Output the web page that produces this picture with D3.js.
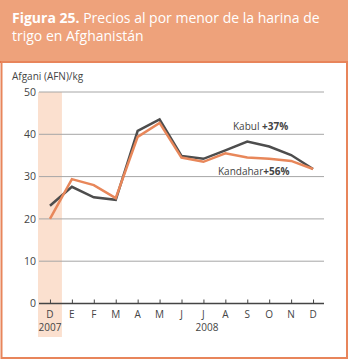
<!DOCTYPE html>
<html lang="es">
<head>
    <meta charset="UTF-8">
    <script src="https://cdn.jsdelivr.net/npm/d3@7"></script>
    <title>Figura 25</title>
    <style>
        * { margin: 0; padding: 0; box-sizing: border-box; }
        body { background: white; }
        svg { display: block; font-family: "Open Sans", sans-serif; }
    </style>
</head>
<body>
    <svg width="350" height="361"></svg>
    <script>
        let months = ['D', 'E', 'F', 'M', 'A', 'M', 'J', 'J', 'A', 'S', 'O', 'N', 'D']
        let kabul = [23.1, 27.6, 25.1, 24.5, 40.8, 43.5, 34.9, 34.2, 36.2, 38.3, 37.1, 35.1, 31.8]
        let kandahar = [20.0, 29.4, 28.0, 24.9, 39.4, 42.7, 34.5, 33.5, 35.5, 34.5, 34.2, 33.7, 31.8]
        let yTicks = [0, 10, 20, 30, 40, 50]

        let svg = d3.select('svg')

        // header band
        svg.append('rect').attr('x', 0).attr('y', 0).attr('width', 348).attr('height', 62).attr('fill', '#eea27b')
        svg.append('rect').attr('x', 0).attr('y', 61).attr('width', 348).attr('height', 2).attr('fill', '#e0693a')
        // frame
        svg.append('rect').attr('x', 1.5).attr('y', 62).attr('width', 345.5).attr('height', 296)
            .attr('fill', 'none').attr('stroke', '#e8855b').attr('stroke-width', 2)

        let title = svg.append('text').attr('x', 12).attr('y', 23).attr('fill', 'white').attr('font-size', 14)
        title.append('tspan').attr('font-weight', 'bold').text('Figura 25.')
        title.append('tspan').text(' Precios al por menor de la harina de')
        svg.append('text').attr('x', 12).attr('y', 41).attr('fill', 'white').attr('font-size', 14)
            .text('trigo en Afghanistán')

        let xScale = d3.scalePoint()
            .domain(d3.range(months.length))
            .range([39, 324])
            .padding(0.5)

        let yScale = d3.scaleLinear()
            .domain([0, 50])
            .range([303.5, 92])

        // 2007 shading
        let step = xScale.step()
        svg.append('rect')
            .attr('x', xScale(0) - step / 2 - 1)
            .attr('y', yScale(50))
            .attr('width', step + 2)
            .attr('height', 337 - yScale(50))
            .attr('fill', '#fbe0cf')

        // grid
        svg.append('g').selectAll('line')
            .data(yTicks.filter(d => d > 0))
            .join('line')
            .attr('x1', 39).attr('x2', 324)
            .attr('y1', d => yScale(d)).attr('y2', d => yScale(d))
            .attr('stroke', '#a6a6a6').attr('stroke-width', 1)

        let yAxis = d3.axisLeft(yScale).tickValues(yTicks).tickSize(0).tickPadding(6)
        let yg = svg.append('g').attr('transform', 'translate(36, 0)').call(yAxis)
        yg.select('.domain').remove()
        yg.selectAll('text').attr('font-size', 10.5).attr('fill', '#444').attr('font-family', '"Open Sans", sans-serif')
            .attr('dx', 6)

        let xAxis = d3.axisTop(xScale).tickSize(4).tickFormat('')
        let xg = svg.append('g').attr('transform', `translate(0, ${yScale(0)})`).call(xAxis)
        xg.select('.domain').attr('d', 'M39,0H324').attr('stroke', '#444').attr('stroke-width', 1.5)
        xg.selectAll('.tick line').attr('stroke', '#444')

        svg.append('g').selectAll('text')
            .data(months)
            .join('text')
            .attr('x', (d, i) => xScale(i))
            .attr('y', 318)
            .attr('text-anchor', 'middle')
            .attr('font-size', 10)
            .attr('fill', '#444')
            .text(d => d)

        svg.append('text').attr('x', xScale(0)).attr('y', 331).attr('text-anchor', 'middle')
            .attr('font-size', 10).attr('fill', '#444').text('2007')
        svg.append('text').attr('x', 207).attr('y', 331).attr('text-anchor', 'middle')
            .attr('font-size', 10).attr('fill', '#444').text('2008')

        svg.append('text').attr('x', 12).attr('y', 80).attr('font-size', 10).attr('fill', '#444')
            .text('Afgani (AFN)/kg')

        let line = d3.line().x((d, i) => xScale(i)).y(d => yScale(d))

        svg.append('path').datum(kabul).attr('d', line)
            .attr('fill', 'none').attr('stroke', '#4d4d4d').attr('stroke-width', 2.5)
        svg.append('path').datum(kandahar).attr('d', line)
            .attr('fill', 'none').attr('stroke', '#e8875a').attr('stroke-width', 2.5)

        let lab1 = svg.append('text').attr('x', 233).attr('y', 130).attr('font-size', 10).attr('fill', '#444')
        lab1.append('tspan').text('Kabul ')
        lab1.append('tspan').attr('font-weight', 'bold').text('+37%')
        let lab2 = svg.append('text').attr('x', 218).attr('y', 175).attr('font-size', 10).attr('fill', '#444')
        lab2.append('tspan').text('Kandahar')
        lab2.append('tspan').attr('font-weight', 'bold').text('+56%')
    </script>
</body>
</html>
